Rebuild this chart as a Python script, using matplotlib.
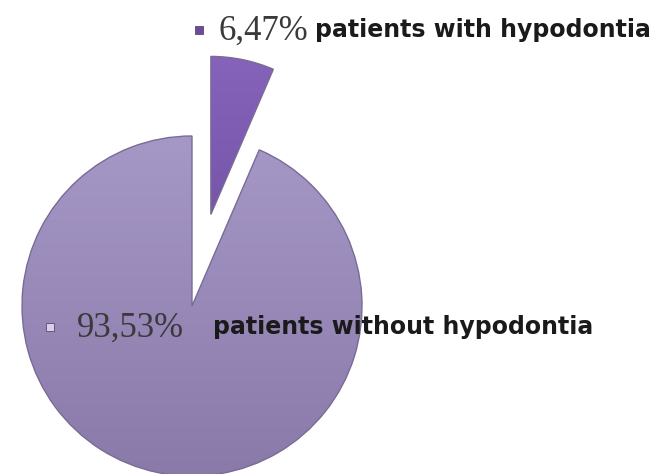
import numpy as np
import matplotlib.pyplot as plt
from matplotlib.colors import LinearSegmentedColormap

labels = ["patients with hypodontia", "patients without hypodontia"]
shares = [6.47, 93.53]
pct_text = ["6,47%", "93,53%"]

# shading ramps for each slice (top -> bottom)
ramps = [["#8a68c0", "#5e3f8e"], ["#b0a3d2", "#8a7aa9"]]
key_colors = ["#6b4c9a", "#d8d0ea"]

fig = plt.figure(figsize=(6.58, 4.74), dpi=100)
ax = fig.add_axes([0, 0, 1, 1])

R = 170
# explode is in data units here (axes are in pixels)
wedges, _ = ax.pie(shares, explode=[0.55 * R, 0.0], startangle=90,
                   counterclock=False, center=(192, 168), radius=R, frame=True,
                   colors=[r[1] for r in ramps],
                   wedgeprops=dict(edgecolor="#7a6b96", linewidth=1.0))
# the pulled-out slice is drawn a little shorter
wedges[0].set_radius(158)
ax.set_xlim(0, 658)
ax.set_ylim(0, 474)
ax.axis("off")

# vertical gradient fill clipped to every wedge
grad = np.linspace(0, 1, 256).reshape(-1, 1)
for w, r in zip(wedges, ramps):
    cmap = LinearSegmentedColormap.from_list("g", [r[1], r[0]])
    im = ax.imshow(grad, cmap=cmap, extent=(0, 658, 0, 474), origin="lower",
                   aspect="auto", zorder=w.get_zorder() + 0.1)
    im.set_clip_path(w)
    w.set_zorder(w.get_zorder() + 0.2)
    w.set_facecolor("none")

# labels with small square keys: key x, y, percent x, text x
rows = [(199, 444, 218, 315), (50, 147, 77, 213)]
for (kx, y, px, tx), pct, lab, kc in zip(rows, pct_text, labels, key_colors):
    ax.plot(kx, y, marker="s", markersize=6, color=kc,
            markeredgecolor="#5a4a70", markeredgewidth=0.6, zorder=5)
    ax.text(px, y - 1, pct, family="Liberation Serif", fontsize=25,
            color="#3a3a3a", va="center", ha="left", zorder=5)
    ax.text(tx, y, lab, family="DejaVu Sans", fontweight="bold", fontsize=17,
            color="#1a1a1a", va="center", ha="left", zorder=5)

ax.set_xlim(0, 658)
ax.set_ylim(0, 474)
fig.savefig("out.png", dpi=100)
